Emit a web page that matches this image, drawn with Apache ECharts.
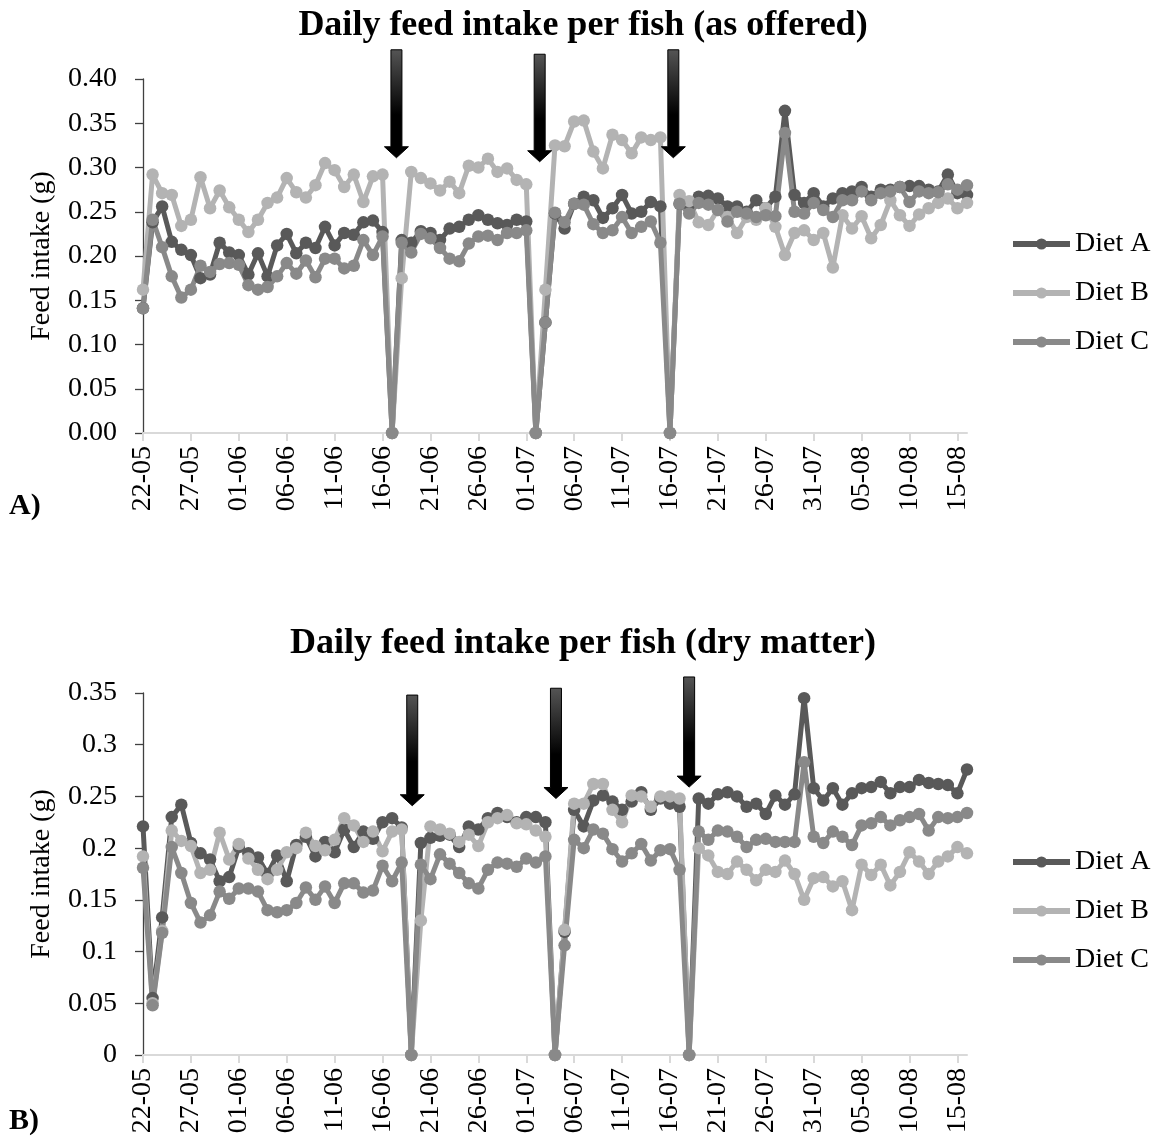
<!DOCTYPE html>
<html>
<head>
<meta charset="utf-8">
<script src="https://cdn.jsdelivr.net/npm/echarts@6/dist/echarts.min.js"></script>
<style>
  html, body { margin: 0; padding: 0; background: #ffffff; }
  #chart { width: 1159px; height: 1142px; }
</style>
</head>
<body>
<div id="chart"></div>
<script>
// Sampling days (dd-mm), one per day from 22 May to 16 August
const days = [
  '22-05','23-05','24-05','25-05','26-05','27-05','28-05','29-05','30-05','31-05',
  '01-06','02-06','03-06','04-06','05-06','06-06','07-06','08-06','09-06','10-06',
  '11-06','12-06','13-06','14-06','15-06','16-06','17-06','18-06','19-06','20-06',
  '21-06','22-06','23-06','24-06','25-06','26-06','27-06','28-06','29-06','30-06',
  '01-07','02-07','03-07','04-07','05-07','06-07','07-07','08-07','09-07','10-07',
  '11-07','12-07','13-07','14-07','15-07','16-07','17-07','18-07','19-07','20-07',
  '21-07','22-07','23-07','24-07','25-07','26-07','27-07','28-07','29-07','30-07',
  '31-07','01-08','02-08','03-08','04-08','05-08','06-08','07-08','08-08','09-08',
  '10-08','11-08','12-08','13-08','14-08','15-08','16-08'
];

// A) Daily feed intake per fish, as offered (g)
const asOfferedDietA = [
  0.141, 0.238, 0.256, 0.216, 0.207, 0.201, 0.175, 0.179, 0.215, 0.204,
  0.201, 0.179, 0.203, 0.177, 0.212, 0.225, 0.203, 0.215, 0.209, 0.233,
  0.212, 0.226, 0.224, 0.238, 0.240, 0.227, 0,
  0.218, 0.215, 0.228, 0.226, 0.218, 0.231, 0.233, 0.241, 0.246, 0.241, 0.237, 0.235, 0.241, 0.239, 0,
  0.125, 0.248, 0.231, 0.259, 0.267, 0.263, 0.243, 0.254, 0.269, 0.248, 0.250, 0.261, 0.256, 0,
  0.259, 0.258, 0.267, 0.268, 0.265, 0.256, 0.256, 0.250, 0.263, 0.254,
  0.267, 0.364, 0.269, 0.260, 0.271, 0.256, 0.265, 0.271, 0.273, 0.278,
  0.267, 0.275, 0.275, 0.278, 0.279, 0.279, 0.275, 0.273, 0.292, 0.271, 0.269
];
const asOfferedDietB = [
  0.162, 0.292, 0.271, 0.269, 0.234, 0.241, 0.289, 0.254, 0.274, 0.255,
  0.241, 0.227, 0.241, 0.260, 0.266, 0.288, 0.272, 0.266, 0.280, 0.305,
  0.297, 0.278, 0.292, 0.261, 0.290, 0.292, 0,
  0.175, 0.295, 0.288, 0.282, 0.274, 0.284, 0.271, 0.302, 0.300, 0.310, 0.295, 0.299, 0.286, 0.281, 0,
  0.162, 0.325, 0.324, 0.352, 0.353, 0.318, 0.299, 0.337, 0.331, 0.316, 0.334, 0.331, 0.334, 0,
  0.269, 0.262, 0.238, 0.235, 0.252, 0.244, 0.226, 0.244, 0.241, 0.254,
  0.233, 0.201, 0.226, 0.229, 0.218, 0.226, 0.187, 0.246, 0.231, 0.245,
  0.220, 0.235, 0.263, 0.246, 0.234, 0.247, 0.254, 0.260, 0.265, 0.254, 0.260
];
const asOfferedDietC = [
  0.141, 0.241, 0.210, 0.177, 0.153, 0.162, 0.189, 0.182, 0.191, 0.192,
  0.190, 0.167, 0.162, 0.165, 0.177, 0.192, 0.180, 0.195, 0.176, 0.197,
  0.197, 0.186, 0.189, 0.218, 0.201, 0.222, 0,
  0.215, 0.204, 0.225, 0.220, 0.209, 0.197, 0.194, 0.214, 0.222, 0.223, 0.218, 0.226, 0.226, 0.229, 0,
  0.125, 0.249, 0.238, 0.259, 0.258, 0.236, 0.226, 0.229, 0.244, 0.226, 0.233, 0.239, 0.215, 0,
  0.259, 0.248, 0.260, 0.258, 0.252, 0.239, 0.250, 0.248, 0.244, 0.246,
  0.245, 0.339, 0.250, 0.248, 0.260, 0.252, 0.244, 0.263, 0.263, 0.273,
  0.263, 0.271, 0.273, 0.278, 0.261, 0.273, 0.271, 0.272, 0.281, 0.275, 0.280
];

// B) Daily feed intake per fish, dry matter (g)
const dryMatterDietA = [
  0.221, 0.055, 0.133, 0.230, 0.242, 0.205, 0.195, 0.189, 0.168, 0.172,
  0.201, 0.195, 0.191, 0.175, 0.193, 0.168, 0.203, 0.211, 0.192, 0.206,
  0.196, 0.218, 0.201, 0.216, 0.209, 0.225, 0.229, 0.220, 0,
  0.205, 0.210, 0.212, 0.213, 0.201, 0.221, 0.218, 0.229, 0.234, 0.230, 0.225, 0.230, 0.230, 0.225, 0,
  0.119, 0.237, 0.221, 0.246, 0.251, 0.245, 0.237, 0.245, 0.254, 0.237, 0.248, 0.243, 0.240, 0,
  0.248, 0.243, 0.252, 0.254, 0.250, 0.240, 0.243, 0.233, 0.251, 0.242,
  0.252, 0.345, 0.258, 0.246, 0.258, 0.242, 0.253, 0.258, 0.259, 0.264,
  0.253, 0.259, 0.259, 0.266, 0.263, 0.262, 0.261, 0.253, 0.276
];
const dryMatterDietB = [
  0.192, 0.050, 0.120, 0.217, 0.207, 0.202, 0.176, 0.179, 0.215, 0.189,
  0.204, 0.190, 0.179, 0.170, 0.179, 0.196, 0.200, 0.215, 0.202, 0.198,
  0.208, 0.229, 0.222, 0.206, 0.216, 0.197, 0.216, 0.218, 0,
  0.130, 0.221, 0.218, 0.214, 0.206, 0.213, 0.202, 0.225, 0.229, 0.232, 0.224, 0.223, 0.217, 0.211, 0,
  0.121, 0.243, 0.243, 0.262, 0.262, 0.237, 0.225, 0.251, 0.250, 0.240, 0.250, 0.250, 0.248, 0,
  0.200, 0.193, 0.177, 0.175, 0.187, 0.179, 0.169, 0.179, 0.177, 0.188,
  0.175, 0.150, 0.171, 0.172, 0.163, 0.168, 0.140, 0.184, 0.174, 0.184,
  0.164, 0.177, 0.196, 0.187, 0.175, 0.187, 0.192, 0.201, 0.195
];
const dryMatterDietC = [
  0.181, 0.048, 0.118, 0.201, 0.176, 0.147, 0.128, 0.135, 0.158, 0.151,
  0.161, 0.161, 0.158, 0.140, 0.138, 0.140, 0.147, 0.162, 0.150, 0.163,
  0.147, 0.166, 0.166, 0.157, 0.159, 0.183, 0.168, 0.186, 0,
  0.184, 0.170, 0.194, 0.185, 0.176, 0.166, 0.161, 0.179, 0.186, 0.185, 0.182, 0.190, 0.186, 0.192, 0,
  0.106, 0.208, 0.200, 0.218, 0.214, 0.199, 0.187, 0.195, 0.204, 0.188, 0.198, 0.199, 0.179, 0,
  0.216, 0.208, 0.217, 0.216, 0.211, 0.201, 0.208, 0.209, 0.206, 0.206,
  0.206, 0.283, 0.211, 0.205, 0.216, 0.211, 0.203, 0.222, 0.224, 0.230,
  0.222, 0.227, 0.230, 0.233, 0.217, 0.230, 0.229, 0.230, 0.234
];

// Tick labels of the two value axes
const yTicksAsOffered = ['0.00', '0.05', '0.10', '0.15', '0.20', '0.25', '0.30', '0.35', '0.40'];
const yTicksDryMatter = ['0', '0.05', '0.1', '0.15', '0.2', '0.25', '0.3', '0.35'];

const dietNames = ['Diet A', 'Diet B', 'Diet C'];
const panelTitles = ['Daily feed intake per fish (as offered)', 'Daily feed intake per fish (dry matter)'];
const panelLetters = ['A)', 'B)'];
const yAxisTitle = 'Feed intake (g)';

// Days on which the feed was changed (pointed at with an arrow)
const feedChangeDays = [[26, 41, 55], [28, 43, 57]];

const SERIF = "'Liberation Serif', 'Times New Roman', serif";
const dietColors = ['#595959', '#b3b3b3', '#898989'];

const panels = [
  { top: 79, height: 354, max: 0.40, ticks: yTicksAsOffered, series: [asOfferedDietA, asOfferedDietB, asOfferedDietC] },
  { top: 693, height: 362, max: 0.35, ticks: yTicksDryMatter, series: [dryMatterDietA, dryMatterDietB, dryMatterDietC] }
];

const grid = panels.map(p => ({ left: 143, right: 192, top: p.top, height: p.height }));

const xAxis = panels.map((p, i) => ({
  type: 'category',
  gridIndex: i,
  data: days,
  boundaryGap: false,
  axisLine: { show: true, lineStyle: { color: '#d9d9d9', width: 2 } },
  axisTick: { show: true, interval: 4, length: 8, lineStyle: { color: '#d9d9d9', width: 2 } },
  axisLabel: { interval: 4, rotate: 90, margin: 13, fontFamily: SERIF, fontSize: 28, color: '#000' },
  splitLine: { show: false }
}));

const yAxis = panels.map((p, i) => ({
  type: 'value',
  gridIndex: i,
  min: 0,
  max: p.max,
  interval: 0.05,
  name: yAxisTitle,
  nameLocation: 'middle',
  nameRotate: 90,
  nameGap: 87,
  nameTextStyle: { fontFamily: SERIF, fontSize: 28, color: '#000' },
  axisLine: { show: true, lineStyle: { color: '#404040', width: 1.3 } },
  axisTick: { show: true, length: 8, lineStyle: { color: '#404040', width: 1.3 } },
  axisLabel: {
    margin: 26, fontFamily: SERIF, fontSize: 28, color: '#000',
    formatter: v => p.ticks[Math.round(v / 0.05)]
  },
  splitLine: { show: false }
}));

const series = [];
panels.forEach((p, i) => {
  p.series.forEach((values, d) => {
    series.push({
      type: 'line',
      name: dietNames[d],
      xAxisIndex: i,
      yAxisIndex: i,
      data: values,
      symbol: 'circle',
      symbolSize: 12.5,
      showSymbol: true,
      showAllSymbol: true,
      lineStyle: { color: dietColors[d], width: 5 },
      itemStyle: { color: dietColors[d] },
      emphasis: { disabled: true },
      animation: false
    });
  });
});

const legend = [230, 848].map(top => ({
  orient: 'vertical',
  left: 1010,
  top: top,
  padding: 0,
  itemGap: 21,
  itemWidth: 57,
  itemHeight: 14,
  selectedMode: false,
  data: dietNames,
  itemStyle: { borderWidth: 0 },
  lineStyle: { width: 6 },
  textStyle: { fontFamily: SERIF, fontSize: 28, color: '#000' }
}));

const chart = echarts.init(document.getElementById('chart'), null, { renderer: 'canvas' });
chart.setOption({
  backgroundColor: '#ffffff',
  animation: false,
  grid, xAxis, yAxis, series, legend
});

// Arrow marks: top and tip given in axis units, drawn above each feed change
const arrowSpecs = [
  [{ shift: 0.45, top: 0.433, tip: 0.311 }, { shift: 0.4, top: 0.428, tip: 0.3065 }, { shift: 0.35, top: 0.433, tip: 0.311 }],
  [{ shift: 0.1, top: 0.348, tip: 0.241 }, { shift: 0.1, top: 0.3546, tip: 0.248 }, { shift: 0.0, top: 0.3655, tip: 0.259 }]
];

const graphic = [];
feedChangeDays.forEach((list, g) => {
  list.forEach((day, j) => {
    const spec = arrowSpecs[g][j];
    const p0 = chart.convertToPixel({ gridIndex: g }, [day, spec.top]);
    const p1 = chart.convertToPixel({ gridIndex: g }, [day + 1, spec.tip]);
    const step = p1[0] - p0[0];
    const cx = p0[0] + spec.shift * step;
    const yTop = p0[1];
    const yTip = p1[1];
    const sw = 5.5, hw = 12, hh = 11;
    graphic.push({
      type: 'polygon',
      z: 100,
      shape: {
        points: [
          [cx - sw, yTop], [cx + sw, yTop], [cx + sw, yTip - hh], [cx + hw, yTip - hh],
          [cx, yTip], [cx - hw, yTip - hh], [cx - sw, yTip - hh]
        ]
      },
      style: {
        fill: new echarts.graphic.LinearGradient(0, 0, 0, 1, [
          { offset: 0, color: '#555555' },
          { offset: 0.6, color: '#000000' },
          { offset: 1, color: '#000000' }
        ]),
        stroke: '#000000',
        lineWidth: 1
      }
    });
  });
});

// Panel titles and letters
[26, 644].forEach((y, i) => {
  graphic.push({
    type: 'text', x: 583, y: y, z: 100,
    style: { text: panelTitles[i], fontFamily: SERIF, fontSize: 36, fontWeight: 'bold', fill: '#000', align: 'center', verticalAlign: 'middle' }
  });
});
[506, 1121].forEach((y, i) => {
  graphic.push({
    type: 'text', x: 9, y: y, z: 100,
    style: { text: panelLetters[i], fontFamily: SERIF, fontSize: 30, fontWeight: 'bold', fill: '#000', align: 'left', verticalAlign: 'middle' }
  });
});

chart.setOption({ graphic });
</script>
</body>
</html>
